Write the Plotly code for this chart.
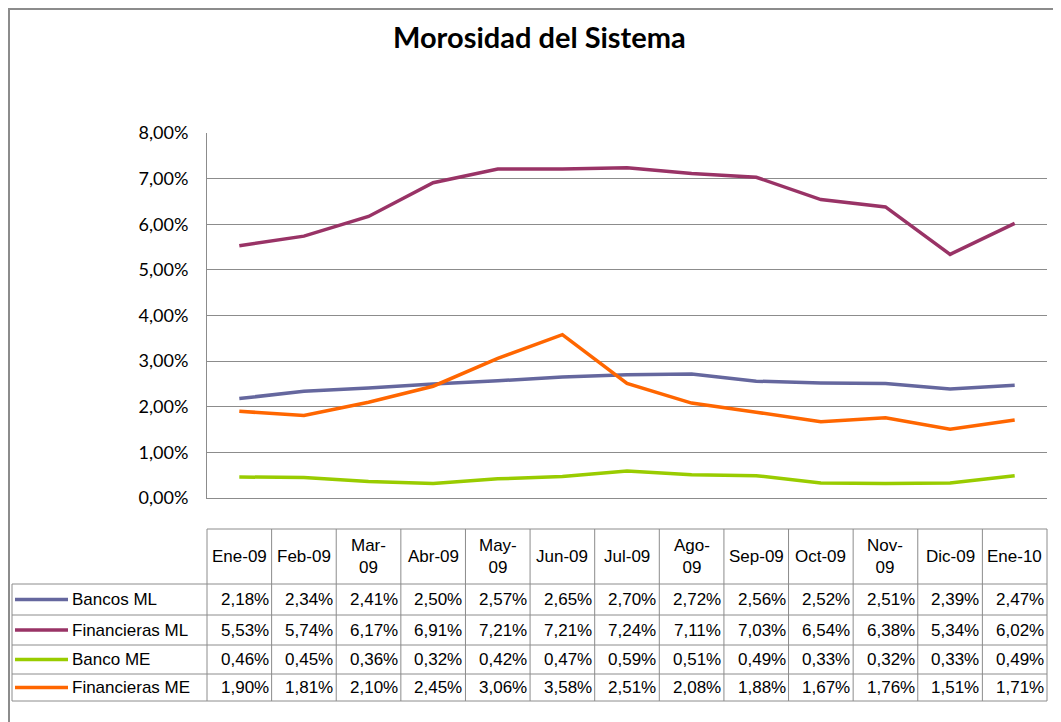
import plotly.graph_objects as go

# datos (%)
meses = ["Ene-09", "Feb-09", "Mar-09", "Abr-09", "May-09", "Jun-09", "Jul-09",
         "Ago-09", "Sep-09", "Oct-09", "Nov-09", "Dic-09", "Ene-10"]
bancos_ml = [2.18, 2.34, 2.41, 2.50, 2.57, 2.65, 2.70, 2.72, 2.56, 2.52, 2.51, 2.39, 2.47]
financieras_ml = [5.53, 5.74, 6.17, 6.91, 7.21, 7.21, 7.24, 7.11, 7.03, 6.54, 6.38, 5.34, 6.02]
banco_me = [0.46, 0.45, 0.36, 0.32, 0.42, 0.47, 0.59, 0.51, 0.49, 0.33, 0.32, 0.33, 0.49]
financieras_me = [1.90, 1.81, 2.10, 2.45, 3.06, 3.58, 2.51, 2.08, 1.88, 1.67, 1.76, 1.51, 1.71]

series = [
    ("Bancos ML", bancos_ml, "#65679e"),
    ("Financieras ML", financieras_ml, "#993366"),
    ("Banco ME", banco_me, "#99cc00"),
    ("Financieras ME", financieras_me, "#ff6600"),
]

OFF = 8  # margen del body de la pagina
W, H = 1061 - OFF, 722 - OFF
L, R, T, B = 207, 1047, 133, 498


def px(p):
    return (p - L) / (R - L)


def py(q):
    return (B - q) / (B - T)


fig = go.Figure()
for name, vals, col in series:
    fig.add_trace(go.Scatter(x=list(range(len(meses))), y=vals, name=name,
                             mode="lines", line=dict(color=col, width=3.5)))

grey = "#8c8c8c"
shapes = []
annots = []

# marco del grafico
shapes.append(dict(type="rect", xref="paper", yref="paper", x0=px(9), y0=py(9),
                   x1=px(1075), y1=py(740), line=dict(color=grey, width=2)))

# tabla de datos
hdr_top, hdr_bot = 529, 584
rows = [584, 615, 645, 674, 701]
shapes.append(dict(type="line", xref="paper", yref="paper", x0=0, x1=1,
                   y0=py(hdr_top), y1=py(hdr_top), line=dict(color=grey, width=1)))
for q in rows:
    shapes.append(dict(type="line", xref="paper", yref="paper", x0=px(12), x1=1,
                       y0=py(q), y1=py(q), line=dict(color=grey, width=1)))
shapes.append(dict(type="line", xref="paper", yref="paper", x0=px(12), x1=px(12),
                   y0=py(rows[0]), y1=py(rows[-1]), line=dict(color=grey, width=1)))
for i in range(len(meses) + 1):
    shapes.append(dict(type="line", xref="paper", yref="paper",
                       x0=i / len(meses), x1=i / len(meses),
                       y0=py(hdr_top), y1=py(rows[-1]), line=dict(color=grey, width=1)))

tfont = dict(family="Liberation Sans, Arial", size=17, color="black")
wrap = {"Mar-09", "May-09", "Ago-09", "Nov-09"}
for i, m in enumerate(meses):
    txt = m.replace("-", "-<br>") if m in wrap else m
    annots.append(dict(x=i, y=py((hdr_top + hdr_bot) / 2), xref="x", yref="paper",
                       text=txt, showarrow=False, font=tfont, align="center",
                       xanchor="center", yanchor="middle"))

for r, (name, vals, col) in enumerate(series):
    yc = py((rows[r] + rows[r + 1]) / 2)
    shapes.append(dict(type="line", xref="paper", yref="paper", x0=px(15), x1=px(68),
                       y0=yc, y1=yc, line=dict(color=col, width=3.5)))
    annots.append(dict(x=px(70), y=yc, xref="paper", yref="paper", text=name,
                       showarrow=False, xanchor="left", yanchor="middle", font=tfont))
    for i, v in enumerate(vals):
        annots.append(dict(x=i + 0.5, y=yc, xref="x", yref="paper",
                           text=f"{v:.2f}".replace(".", ",") + "%",
                           showarrow=False, xanchor="right", yanchor="middle",
                           xshift=-1, font=tfont))

# titulo
annots.append(dict(x=px(539), y=py(36), xref="paper", yref="paper",
                   text="<b>Morosidad del Sistema</b>", showarrow=False,
                   xanchor="center", yanchor="middle",
                   font=dict(family="Lato, Open Sans", size=29, color="black")))

fig.update_layout(
    width=W, height=H,
    margin=dict(l=L - OFF, r=W - (R - OFF), t=T - OFF, b=H - (B - OFF)),
    paper_bgcolor="white", plot_bgcolor="white",
    showlegend=False,
    separators=",.",
    shapes=shapes, annotations=annots,
    xaxis=dict(range=[-0.5, len(meses) - 0.5], showticklabels=False, showgrid=False,
               showline=True, linecolor=grey, zeroline=False, ticks=""),
    yaxis=dict(range=[0, 8], dtick=1, tickformat=".2f", ticksuffix="%",
               showgrid=True, gridcolor=grey, gridwidth=1, zeroline=False,
               showline=True, linecolor=grey, ticks="", ticklabelstandoff=14,
               tickfont=dict(family="Lato, Open Sans", size=18, color="black")),
)

fig.write_html("out.html")
